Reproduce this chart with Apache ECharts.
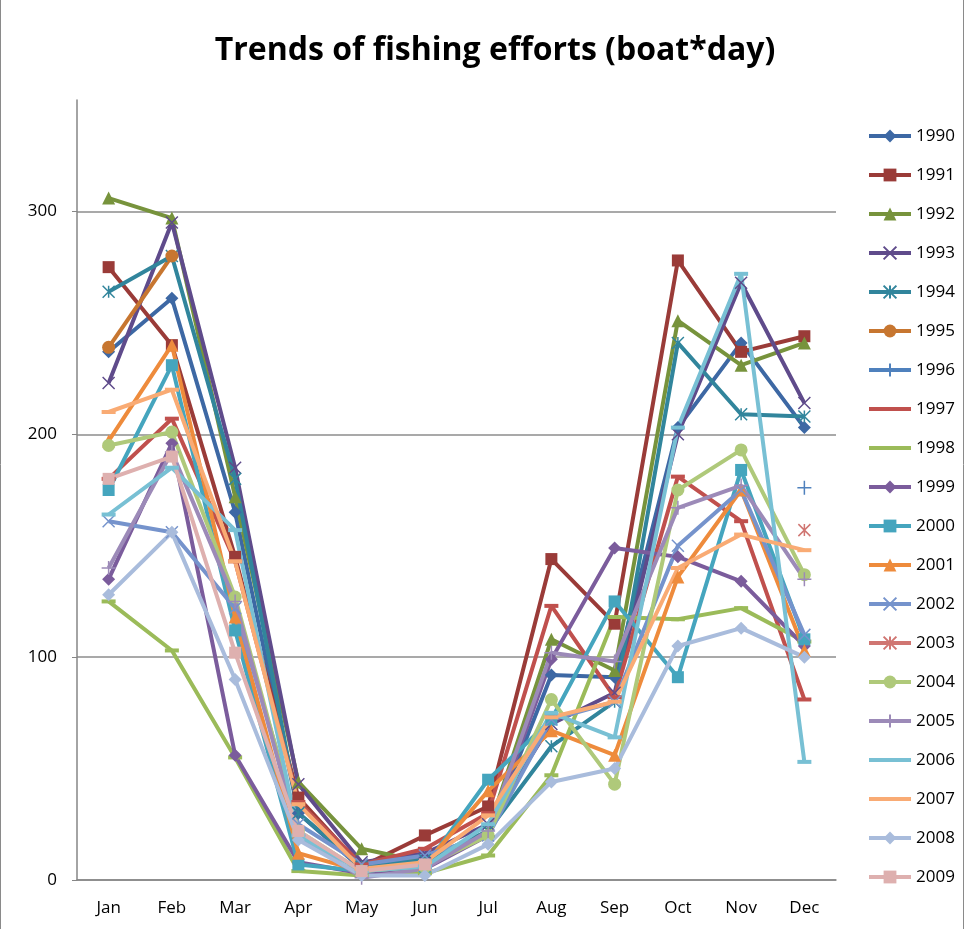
<!DOCTYPE html>
<html>
<head>
<meta charset="utf-8">
<script src="https://cdn.jsdelivr.net/npm/echarts@6/dist/echarts.min.js"></script>
<style>
  html, body { margin: 0; padding: 0; background: #fff; }
  #chart { width: 971px; height: 929px; }
</style>
</head>
<body>
<div id="chart"></div>
<script>
// Monthly fishing effort (boat*day), one line per year
const months = ['Jan', 'Feb', 'Mar', 'Apr', 'May', 'Jun', 'Jul', 'Aug', 'Sep', 'Oct', 'Nov', 'Dec'];
const years = ['1990', '1991', '1992', '1993', '1994', '1995', '1996', '1997', '1998', '1999',
               '2000', '2001', '2002', '2003', '2004', '2005', '2006', '2007', '2008', '2009'];
const yTicks = [0, 100, 200, 300];

const v1990 = [237, 261, 165, 30, 5, 10, 20, 92, 91, 203, 241, 203];
const v1991 = [275, 240, 145, 37, 6, 20, 33, 144, 115, 278, 237, 244];
const v1992 = [306, 297, 172, 44, 14, 8, 22, 108, 94, 251, 231, 241];
const v1993 = [223, 295, 185, 43, 8, 12, 25, 70, 84, 200, 268, 214];
const v1994 = [264, 280, 180, 30, 6, 9, 22, 60, 80, 241, 209, 208];
const v1995 = [239, 280, null, null, null, null, null, null, null, null, null, null];
const v1996 = [null, null, null, null, null, null, null, null, null, null, null, 176];
const v1997 = [180, 207, 143, 35, 7, 14, 30, 123, 82, 181, 161, 81];
const v1998 = [125, 103, 55, 4, 2, 3, 11, 47, 118, 117, 122, 107];
const v1999 = [135, 196, 56, 8, 3, 5, 20, 99, 149, 145, 134, 105];
const v2000 = [175, 231, 112, 7, 4, 6, 45, 72, 125, 91, 184, 108];
const v2001 = [197, 240, 118, 12, 4, 7, 40, 67, 56, 136, 175, 103];
const v2002 = [161, 156, 122, 25, 7, 11, 20, 72, 80, 150, 175, 110];
const v2003 = [null, null, null, null, null, null, null, null, null, null, null, 157];
const v2004 = [195, 201, 127, 22, 4, 6, 20, 81, 43, 175, 193, 137];
const v2005 = [140, 192, 125, 20, 1, 5, 22, 102, 98, 167, 177, 135];
const v2006 = [164, 185, 157, 20, 4, 6, 25, 75, 64, 203, 272, 53];
const v2007 = [210, 220, 143, 34, 5, 8, 29, 73, 80, 140, 155, 148];
const v2008 = [128, 156, 90, 18, 2, 2, 16, 44, 50, 105, 113, 100];
const v2009 = [180, 190, 102, 22, 4, 7, null, null, null, null, null, null];

const values = [v1990, v1991, v1992, v1993, v1994, v1995, v1996, v1997, v1998, v1999,
                v2000, v2001, v2002, v2003, v2004, v2005, v2006, v2007, v2008, v2009];

const colors = ['#3D68A4', '#9A3B38', '#77933C', '#5F4B8B', '#31859C', '#C77630', '#4F81BD',
                '#C0504D', '#9BBB59', '#7B5C9C', '#45A5BE', '#EE8B3C', '#7593CC', '#D07672',
                '#AFC97A', '#9C8AB8', '#78C0D4', '#F9AB74', '#A9BCDC', '#DEB0AF'];

// marker kinds per year
const X_PATH = 'path://M0,0L10,10M10,0L0,10';
const STAR_PATH = 'path://M0,0L10,10M10,0L0,10M5,0L5,10';
const PLUS_PATH = 'path://M5,0L5,10M0,5L10,5';
const markers = ['diamond', 'rect', 'triangle', 'x', 'star', 'circle', 'plus', 'dash', 'dash', 'diamond',
                 'rect', 'triangle', 'x', 'star', 'circle', 'plus', 'dash', 'dash', 'diamond', 'rect'];

// legend icon for the dash-marked years: a plain bar inside a 42x16 box
const DASH_LEGEND = 'path://M0,0h0.05v0.05h-0.05zM41.95,15.95h0.05v0.05h-0.05zM0,6h42v4h-42z';

function markerSpec(kind, color) {
  const filled = { itemStyle: { color: color, borderWidth: 0 } };
  switch (kind) {
    case 'diamond': return Object.assign({ symbol: 'diamond', symbolSize: 13 }, filled);
    case 'rect': return Object.assign({ symbol: 'rect', symbolSize: 12 }, filled);
    case 'triangle': return Object.assign({ symbol: 'triangle', symbolSize: 13 }, filled);
    case 'circle': return Object.assign({ symbol: 'circle', symbolSize: 13 }, filled);
    case 'dash': return Object.assign({ symbol: 'rect', symbolSize: [14, 4] }, filled);
    case 'x': return { symbol: X_PATH, symbolSize: 12, itemStyle: { color: 'rgba(0,0,0,0)', borderColor: color, borderWidth: 1.5 } };
    case 'star': return { symbol: STAR_PATH, symbolSize: 12, itemStyle: { color: 'rgba(0,0,0,0)', borderColor: color, borderWidth: 1.5 } };
    case 'plus': return { symbol: PLUS_PATH, symbolSize: 14, itemStyle: { color: 'rgba(0,0,0,0)', borderColor: color, borderWidth: 1.5 } };
  }
}

const series = years.map((y, i) => Object.assign({
  name: y,
  type: 'line',
  data: values[i],
  showSymbol: true,
  connectNulls: false,
  lineStyle: { color: colors[i], width: 4 },
  emphasis: { disabled: true },
  z: 2
}, markerSpec(markers[i], colors[i])));

const legendData = years.map((y, i) => markers[i] === 'dash'
  ? { name: y, icon: DASH_LEGEND, itemStyle: { color: colors[i] } }
  : { name: y });

const font = '"Open Sans", "Liberation Sans", sans-serif';

const chart = echarts.init(document.getElementById('chart'), null, { renderer: 'canvas' });
chart.setOption({
  animation: false,
  color: colors,
  title: {
    text: 'Trends of fishing efforts (boat*day)',
    left: 490, top: 30, textAlign: 'center',
    textStyle: { fontFamily: font, fontSize: 32, fontWeight: 'bold', color: '#000' }
  },
  graphic: [{
    type: 'rect', shape: { x: 0.5, y: -2, width: 963, height: 940 },
    style: { fill: 'none', stroke: '#8a8a8a', lineWidth: 1 }, silent: true
  }],
  legend: {
    orient: 'vertical',
    left: 862, top: 121,
    itemWidth: 42, itemHeight: 16, itemGap: 19,
    data: legendData,
    lineStyle: { width: 4 },
    textStyle: { fontFamily: font, fontSize: 17, color: '#000', lineHeight: 20 }
  },
  grid: { left: 77, top: 100, width: 759, height: 780 },
  xAxis: {
    type: 'category',
    data: months,
    boundaryGap: true,
    axisLine: { lineStyle: { color: '#868686', width: 1.5 } },
    axisTick: { show: false },
    axisLabel: { fontFamily: font, fontSize: 17, color: '#000', margin: 20 }
  },
  yAxis: {
    type: 'value',
    min: yTicks[0], max: 350, interval: yTicks[1] - yTicks[0],
    axisLine: { show: true, lineStyle: { color: '#868686', width: 1.5 } },
    axisTick: { show: true, length: 5, lineStyle: { color: '#868686' } },
    axisLabel: { fontFamily: font, fontSize: 17, color: '#000', margin: 20, showMaxLabel: false },
    splitLine: { show: true, showMaxLine: false, lineStyle: { color: '#8c8c8c', width: 1.5 } }
  },
  series: series
});
</script>
</body>
</html>
